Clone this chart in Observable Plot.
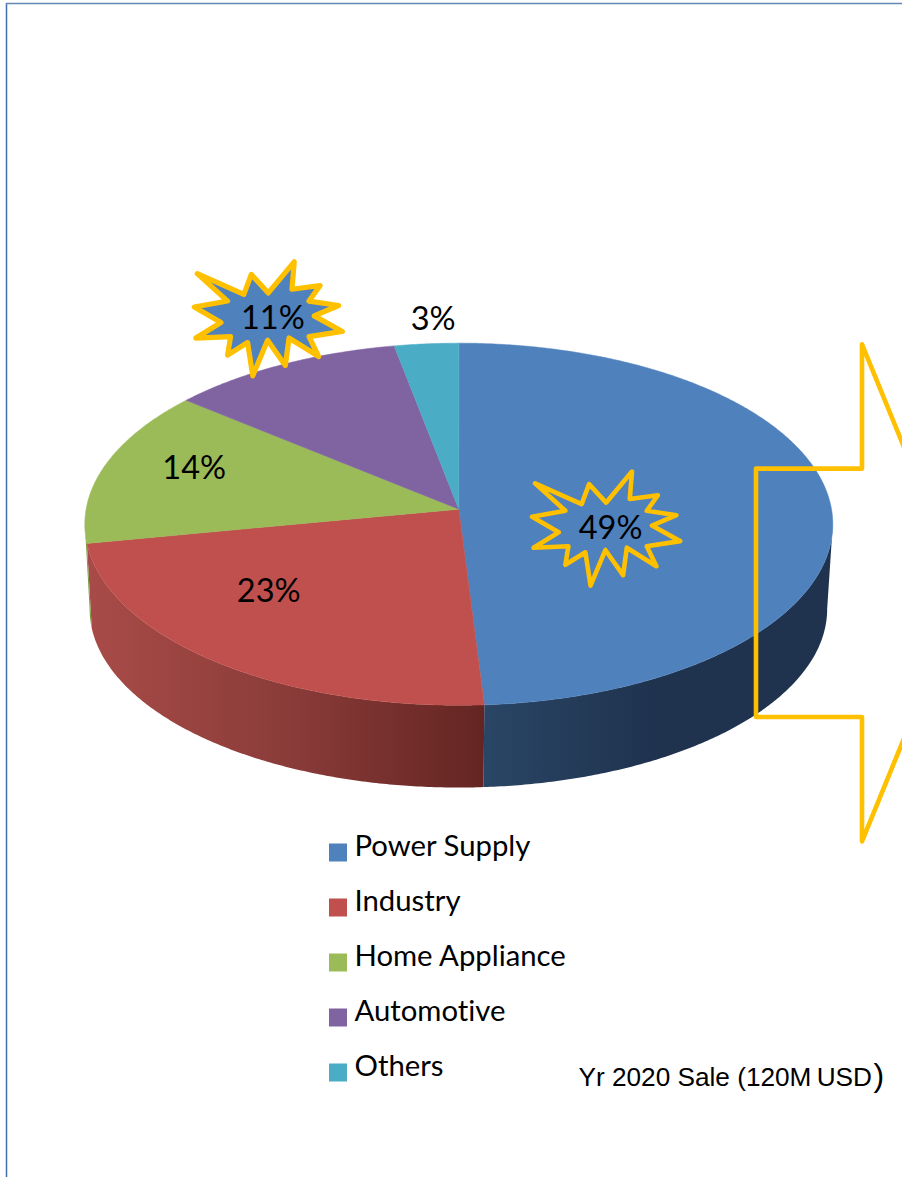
<!DOCTYPE html>
<html>
<head>
<meta charset="utf-8">
<style>html,body{margin:0;padding:0;background:#fff;overflow:hidden}svg{display:block}</style>
<script src="https://cdn.jsdelivr.net/npm/d3@7"></script>
<script src="https://cdn.jsdelivr.net/npm/@observablehq/plot@0.6"></script>
</head>
<body>
<script>
// Chart data
const names = ["Power Supply", "Industry", "Home Appliance", "Automotive", "Others"];
const shares = [49, 23, 14, 11, 3];
const colors = ["#4f81bd", "#c0504d", "#9bbb59", "#8064a2", "#4bacc6"];
const highlighted = ["Power Supply", "Automotive"];
const caption = "Yr 2020 Sale (120M\u2009USD";

// Layout: perspective disc
const W = 902, H = 1177;
const K = 0.0829;
const TOP = {cx: 458.3, cy: 508.7, a: 372.7, b: 179.8};
const BASE = {cx: 457.9, cy: 593.7, a: 367.5, b: 177.3};
function project(disc, turn, r = 1) {
  const t = turn * 2 * Math.PI, u = r * Math.sin(t), v = -r * Math.cos(t), d = 1 - K * v;
  return {x: disc.cx + disc.a * u / d, y: disc.cy + disc.b * v / d};
}
const VIS0 = 94.76 / 360, VIS1 = 265.24 / 360;
const total = d3.sum(shares);
const cum = d3.cumsum(shares).map(c => c / total);
const slices = names.map((name, i) => ({name, color: colors[i], t0: i ? cum[i - 1] : 0, t1: cum[i], share: shares[i]}));

const arc = (disc, t0, t1) => {
  const n = Math.max(2, Math.ceil((t1 - t0) * 720));
  return d3.range(n + 1).map(j => project(disc, t0 + (t1 - t0) * j / n));
};
const topRows = slices.flatMap(s => [
  {...s, ...project(TOP, 0, 0)},
  ...arc(TOP, s.t0, s.t1).map(p => ({...s, ...p}))
]);
const sideFill = {"Power Supply": "url(#sideBlue)", "Industry": "url(#sideRed)", "Home Appliance": "#7b9a42"};
const sideRows = slices.flatMap(s => {
  const a = Math.max(s.t0, VIS0), b = Math.min(s.t1, VIS1);
  if (b <= a) return [];
  return [...arc(TOP, a, b), ...arc(BASE, a, b).reverse()].map(p => ({name: s.name, ...p}));
}).filter(d => sideFill[d.name]);

// Label placement: slice mid-angle at 70% radius, plus a hand nudge
const nudge = {
  "Power Supply": [-108.5, 23], "Industry": [-22.5, -22], "Home Appliance": [-15.5, -9.5],
  "Automotive": [-59.5, -87.5], "Others": [-2.5, -71.5]
};
const labels = slices.map(s => {
  const p = project(TOP, (s.t0 + s.t1) / 2, 0.7);
  return {name: s.name, text: s.share + "%", x: p.x + nudge[s.name][0], y: p.y + nudge[s.name][1]};
});

// Explosion outline in shape units (100 = half width)
const burstShape = [[-96,-61],[-33,-33],[-23,-60],[0,-35],[35,-77],[32,-40],[70,-45],[55,-24],[95,-18],[62,-4],[100,17],[55,24],[68,51],[28,26],[23,63],[-1,29],[-21,77],[-28,32],[-55,49],[-51,24],[-98,26],[-64,5],[-100,-16],[-55,-24]];
const burstOf = name => labels.filter(l => l.name === name).flatMap(l =>
  burstShape.map(([sx, sy]) => ({name: l.name, x: l.x - 4.5 + sx * 0.74, y: l.y + 0.3 + sy * 0.74})));

// Block arrow, running off the right edge
const A = {left: 755.5, neck: 861.5, midY: 592.3, shaft: 124.2, head: 248.5, tip: 963};
const arrowRows = [
  {x: A.left, y: A.midY - A.shaft}, {x: A.neck, y: A.midY - A.shaft}, {x: A.neck, y: A.midY - A.head},
  {x: A.tip, y: A.midY}, {x: A.neck, y: A.midY + A.head}, {x: A.neck, y: A.midY + A.shaft}, {x: A.left, y: A.midY + A.shaft}
];

// Legend
const legendRows = names.map((name, i) => ({name, color: colors[i], y1: 843.5 + 55 * i, y2: 861.5 + 55 * i, base: 854 + 55 * i}));

const gradients = () => {
  const defs = d3.create("svg:defs");
  const add = (id, x1, x2, stops) => {
    const g = defs.append("linearGradient").attr("id", id).attr("gradientUnits", "userSpaceOnUse")
      .attr("x1", x1).attr("x2", x2).attr("y1", 0).attr("y2", 0);
    stops.forEach(([o, c]) => g.append("stop").attr("offset", o).attr("stop-color", c));
  };
  add("sideRed", 90, 484, [[0, "#a84b48"], [0.5, "#8a3c39"], [1, "#642522"]]);
  add("sideBlue", 484, 650, [[0, "#2a4565"], [1, "#1f334f"]]);
  return defs.node();
};

const LABEL_FONT = "Lato, Carlito, sans-serif";
const SANS = "Liberation Sans, Arial, sans-serif";
const chart = Plot.plot({
  width: W, height: H,
  margin: 0,
  style: {background: "#fff", overflow: "hidden", fontVariantLigatures: "none"},
  x: {domain: [0, W], range: [0, W], axis: null},
  y: {domain: [0, H], range: [0, H], axis: null},
  color: {type: "identity"},
  marks: [
    gradients,
    Plot.ruleX([6], {y1: 3, y2: H, stroke: "#3f70ae", strokeWidth: 1.5}),
    Plot.ruleY([3], {x1: 6, x2: W, stroke: "#6488b4", strokeWidth: 1.3}),
    ...Object.keys(sideFill).map(n => Plot.line(sideRows.filter(d => d.name === n), {x: "x", y: "y", fill: sideFill[n], stroke: "none", curve: "linear-closed"})),
    Plot.line(topRows, {x: "x", y: "y", z: "name", fill: "color", stroke: "color", strokeWidth: 0.5, curve: "linear-closed"}),
    Plot.line(burstOf("Automotive"), {x: "x", y: "y", fill: colors[0], stroke: "#ffc000", strokeWidth: 5.2, strokeLinejoin: "round", curve: "linear-closed"}),
    Plot.line(burstOf("Power Supply"), {x: "x", y: "y", fill: colors[0], stroke: "#ffc000", strokeWidth: 4.6, strokeLinejoin: "round", curve: "linear-closed"}),
    Plot.text(labels, {x: "x", y: "y", text: "text", fontFamily: LABEL_FONT, fontSize: 32.5, fill: "#000", textAnchor: "middle", lineAnchor: "middle"}),
    Plot.line(arrowRows, {x: "x", y: "y", fill: "none", stroke: "#ffc000", strokeWidth: 4.6, strokeLinejoin: "round", curve: "linear-closed", clip: true}),
    Plot.rect(legendRows, {x1: () => 329, x2: () => 347, y1: "y1", y2: "y2", fill: "color"}),
    Plot.text(legendRows, {x: () => 354, y: "base", text: "name", fontFamily: LABEL_FONT, fontSize: 29.3, fill: "#000", textAnchor: "start", lineAnchor: "bottom", dy: 1}),
    Plot.text([caption], {x: () => 578, y: () => 1080, text: d => d, fontFamily: SANS, fontSize: 26.2, fill: "#000", textAnchor: "start", lineAnchor: "bottom", dy: 5}),
    Plot.text([")"], {x: () => 873, y: () => 1080, text: d => d, fontFamily: SANS, fontSize: 32, fill: "#000", textAnchor: "start", lineAnchor: "bottom", dy: 5})
  ]
});
document.body.append(chart);
</script>
</body>
</html>
